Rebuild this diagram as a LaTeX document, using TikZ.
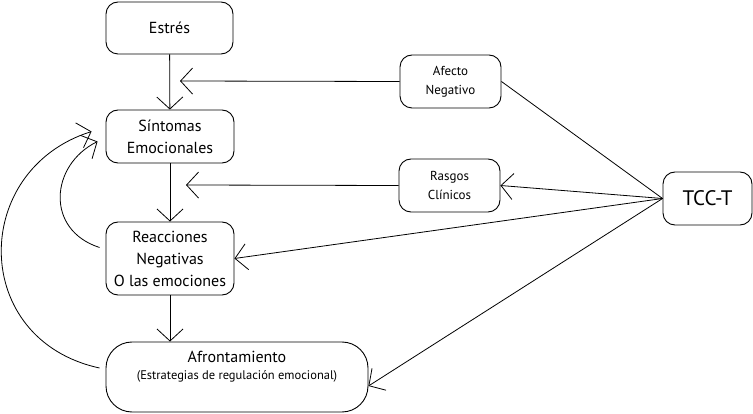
\documentclass[tikz,border=0pt]{standalone}
\usepackage{fontspec}
\setmainfont{PT Sans}
\usetikzlibrary{arrows.meta}
\begin{document}
\begin{tikzpicture}[x=1pt,y=-1pt,
  box/.style={draw,line width=0.9pt,rounded corners=12pt,align=center,inner sep=0pt,
    font=\fontsize{16}{22}\selectfont},
  smallbox/.style={box,font=\fontsize{13}{19}\selectfont},
  conn/.style={line width=0.8pt},
  arr/.style={conn,-{Straight Barb[length=12pt,width=26pt,line width=0.8pt]}}]
\useasboundingbox (0,0) rectangle (753,414);
\node[box,minimum width=127pt,minimum height=52pt] (estres) at (169.5,28) {Estrés};
\node[box,minimum width=128pt,minimum height=53pt] (sint) at (170,136.5) {Síntomas\\Emocionales};
\node[box,minimum width=128pt,minimum height=73pt] (reac) at (170,258.5) {Reacciones\\Negativas\\O las emociones};
\node[box,rounded corners=26pt,minimum width=262pt,minimum height=70pt] (afr) at (237,377)
  {Afrontamiento\\[-5pt]{\fontsize{12.5}{16}\selectfont(Estrategias de regulación emocional)}\\[2pt]};
\node[smallbox,minimum width=101pt,minimum height=53pt] (afecto) at (450.5,81.5) {Afecto\\Negativo};
\node[smallbox,minimum width=101pt,minimum height=53pt] (rasgos) at (449.5,185.5) {Rasgos\\Clínicos};
\node[box,font=\fontsize{21}{24}\selectfont,minimum width=89pt,minimum height=53pt] (tcc) at (707.5,198.5) {TCC-T};
\coordinate (afectoend) at (180,81);
\coordinate (rasgosend) at (186,185);
\draw[arr] (estres) -- (sint);
\draw[arr] (sint) -- (reac);
\draw[arr] (reac.south) -- (reac.south |- afr.north);
\draw[arr] (afecto.west) -- (afectoend);
\draw[arr] (rasgos.west) -- (rasgosend);
\draw[conn] (tcc.west) -- (afecto.east);
\draw[arr] (tcc.west) -- (rasgos.east);
\draw[arr] (tcc.west) -- (reac.east);
\draw[arr] (tcc.west) -- ([yshift=-9]afr.east);
\draw[arr] ([shift={(-6,-11)}]reac.west) .. controls (45,230) and (50,165) .. ([shift={(-8,5)}]sint.west);
\draw[arr] ([shift={(-6,-9)}]afr.west) .. controls (-30,340) and (-30,170) .. ([shift={(-14,-5)}]sint.west);
\end{tikzpicture}
\end{document}
